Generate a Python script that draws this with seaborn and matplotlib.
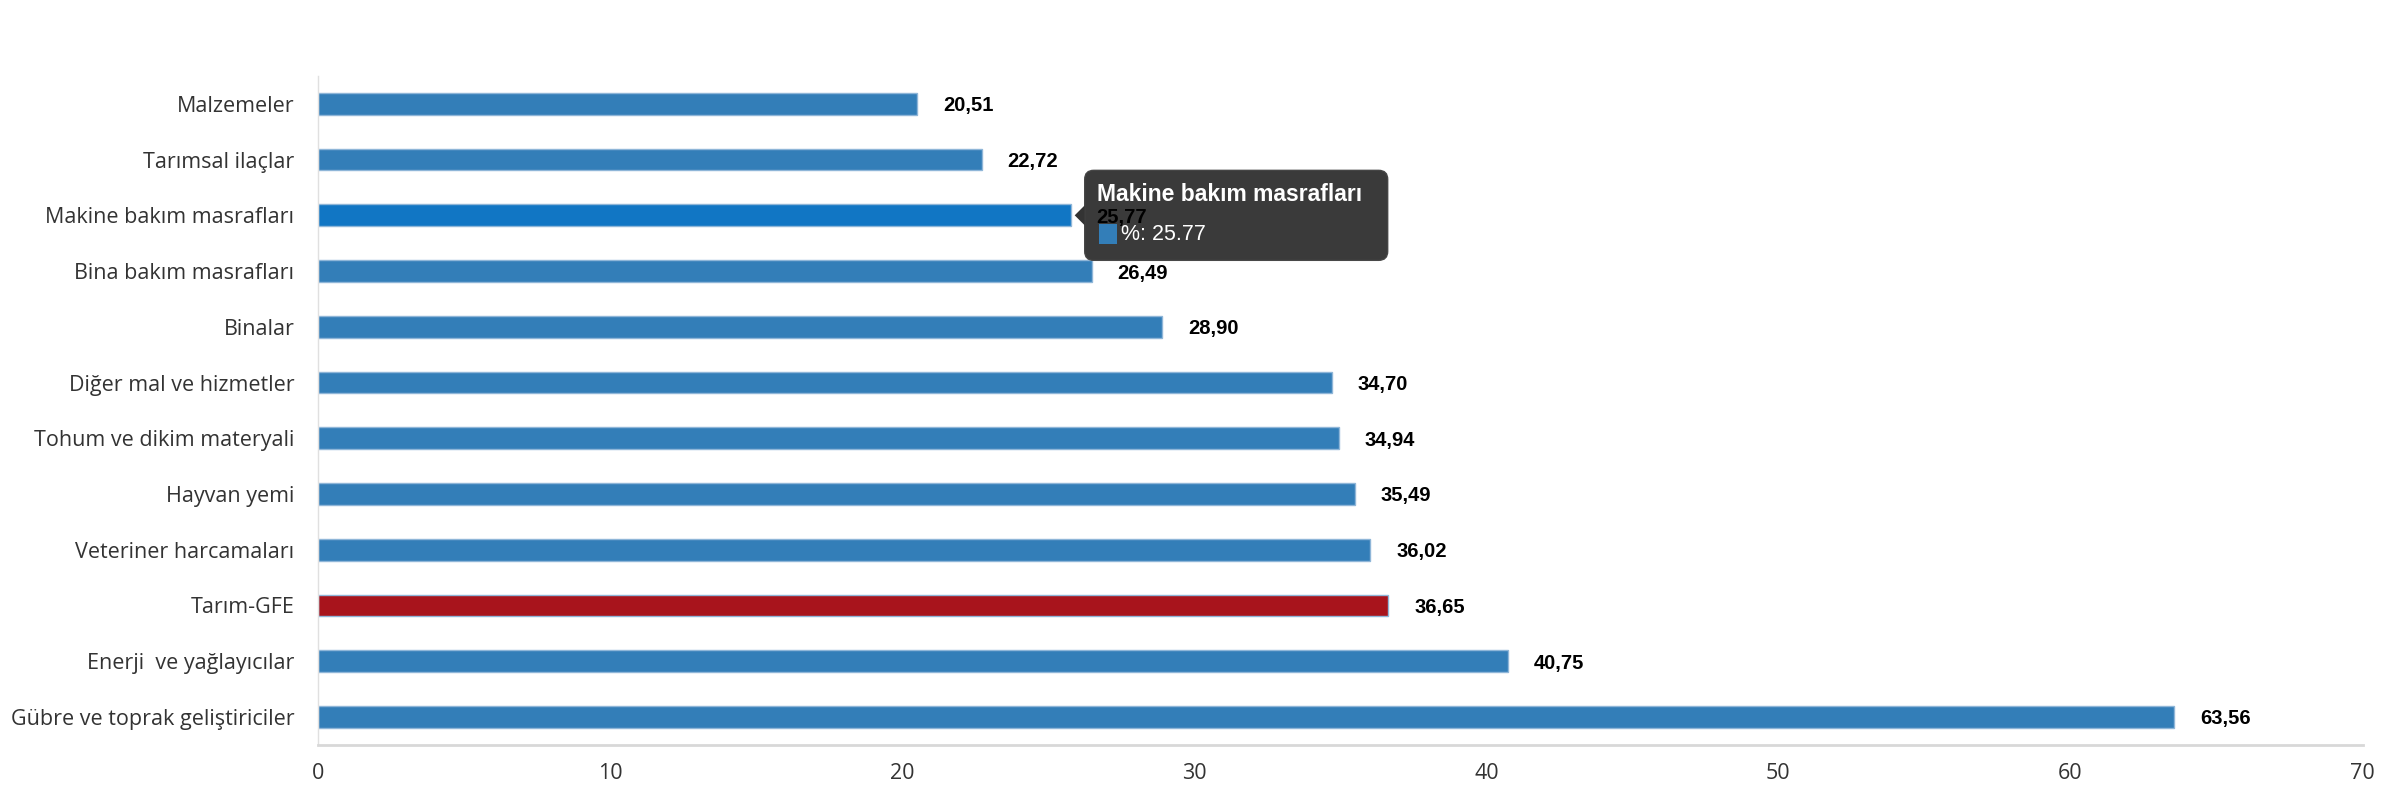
import matplotlib
matplotlib.use("Agg")
import matplotlib.pyplot as plt
import seaborn as sns
from matplotlib.patches import FancyBboxPatch, Rectangle, Polygon
from matplotlib.transforms import IdentityTransform, ScaledTranslation

# -----------------------------
# DATA
# -----------------------------
categories = [
    "Malzemeler",
    "Tarımsal ilaçlar",
    "Makine bakım masrafları",
    "Bina bakım masrafları",
    "Binalar",
    "Diğer mal ve hizmetler",
    "Tohum ve dikim materyali",
    "Hayvan yemi",
    "Veteriner harcamaları",
    "Tarım-GFE",
    "Enerji  ve yağlayıcılar",
    "Gübre ve toprak geliştiriciler",
]
values = [20.51, 22.72, 25.77, 26.49, 28.90, 34.70, 34.94, 35.49, 36.02, 36.65, 40.75, 63.56]
highlight = "Tarım-GFE"
hovered = "Makine bakım masrafları"
x_ticks = [0, 10, 20, 30, 40, 50, 60, 70]

BLUE = "#337eb8"
HOVER_BLUE = "#1176c4"
RED = "#a8141c"

colors = {}
for c in categories:
    if c == highlight:
        colors[c] = RED
    elif c == hovered:
        colors[c] = HOVER_BLUE
    else:
        colors[c] = BLUE

# -----------------------------
# PLOT
# -----------------------------
sns.set_style("white")
plt.rcParams["font.family"] = ["Open Sans", "DejaVu Sans"]

fig = plt.figure(figsize=(23.84, 8), dpi=100)
ax = fig.add_axes([0.1334, 0.069, 0.8576, 0.836])

sns.barplot(x=values, y=categories, hue=categories, palette=colors,
            orient="h", width=0.39, legend=False, ax=ax, saturation=1,
            edgecolor="#8fb6d8", linewidth=1.0)

ax.set_xlim(0, 70)
ax.set_xticks(x_ticks)
ax.set_xlabel("")
ax.set_ylabel("")
ax.tick_params(axis="y", length=0, pad=17, labelsize=15.5, labelcolor="#333333")
ax.tick_params(axis="x", length=0, pad=13, labelsize=15.5, labelcolor="#333333")

for s in ["top", "right"]:
    ax.spines[s].set_visible(False)
ax.spines["left"].set_color("#e0e0e0")
ax.spines["left"].set_linewidth(1)
ax.spines["bottom"].set_color("#d8d8d8")
ax.spines["bottom"].set_linewidth(2)

# value labels
for i, v in enumerate(values):
    ax.annotate(f"{v:.2f}".replace(".", ","), xy=(v, i), xytext=(26, 0),
                textcoords="offset pixels", va="center_baseline", ha="left",
                fontsize=14.5, fontweight="bold", color="black",
                family=["Liberation Sans", "DejaVu Sans"], zorder=10)

# -----------------------------
# TOOLTIP (hover state)
# -----------------------------
hi = categories.index(hovered)
hv = values[hi]
tr = IdentityTransform() + ScaledTranslation(hv, hi, ax.transData)

box = FancyBboxPatch((14, -45), 303, 90, boxstyle="round,pad=0,rounding_size=9",
                     facecolor="#333333", edgecolor="#444444", alpha=0.97,
                     transform=tr, clip_on=False, zorder=8)
ax.add_patch(box)
ax.add_patch(Polygon([(14, 10), (14, -10), (4, 0)], closed=True,
                     facecolor="#333333", edgecolor="none",
                     transform=tr, clip_on=False, zorder=8))
ax.text(26, 21, hovered, transform=tr, color="white", fontsize=16.5,
        fontweight="bold", va="center", ha="left",
        family=["Liberation Sans", "DejaVu Sans"], zorder=9)
ax.add_patch(Rectangle((28, -29), 18, 20, facecolor=BLUE, edgecolor="none",
                       transform=tr, clip_on=False, zorder=9))
ax.text(50, -19, f"%: {hv}", transform=tr, color="white", fontsize=15.5,
        va="center", ha="left", family=["Liberation Sans", "DejaVu Sans"], zorder=9)

fig.savefig("out.png", dpi=100)
